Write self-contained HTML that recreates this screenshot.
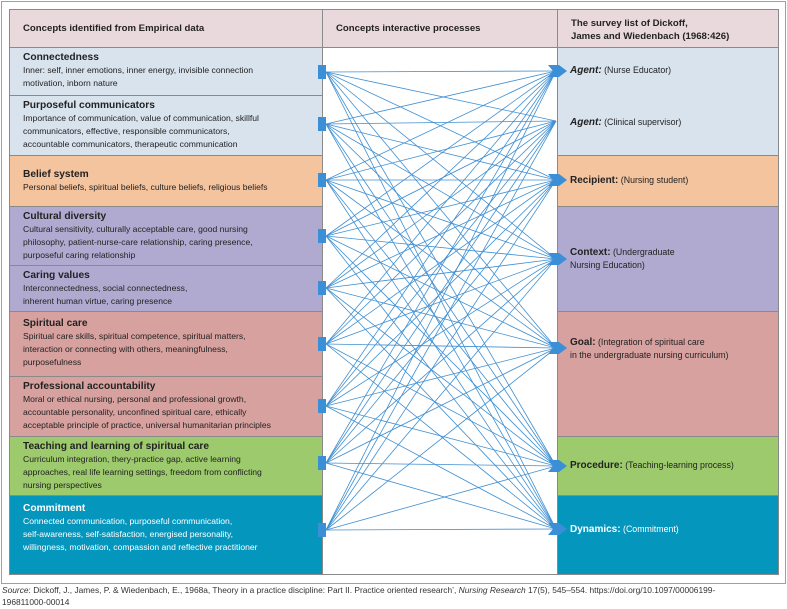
<!DOCTYPE html>
<html><head><meta charset="utf-8"><style>
body{margin:0;width:787px;height:609px;background:#fff;font-family:"Liberation Sans",sans-serif;color:#222;position:relative;overflow:hidden}
.frame{position:absolute;left:1px;top:1px;width:783px;height:581px;border:1px solid #a0a0a0}
.c{position:absolute;box-sizing:border-box;border:1px solid #8a8a8a;padding:3px 0 0 13px;font-size:8.6px;line-height:12.8px}
.c b{font-size:10.2px;display:block;line-height:13px}
.h{background:#ead9dc;font-weight:bold;font-size:9.6px;line-height:13px}
.bl{background:#d9e3ee}.or{background:#f4c49f}.pu{background:#b0aad0}.re{background:#d7a19f}.gr{background:#9cca6c}.te{background:#0596bd;color:#fff}
.r{position:absolute;left:570px;font-size:8.8px;line-height:13px}
.r b{font-size:10px}
.src{position:absolute;left:2px;top:584px;font-size:8.4px;line-height:12px;color:#333}
</style></head><body>
<div class="frame"></div>
<div class="c h" style="left:9px;top:9px;width:314px;height:39px;padding-top:12px">Concepts identified from Empirical data</div>
<div class="c h" style="left:322px;top:9px;width:236px;height:39px;padding-top:12px">Concepts interactive processes</div>
<div class="c h" style="left:557px;top:9px;width:222px;height:39px;padding-top:7px">The survey list of Dickoff,<br>James and Wiedenbach (1968:426)</div>
<div class="c" style="left:322px;top:47px;width:236px;height:528px;background:#fff"></div>

<div class="c bl" style="left:9px;top:47px;width:314px;height:49px"><b>Connectedness</b>Inner: self, inner emotions, inner energy, invisible connection<br>motivation, inborn nature</div>
<div class="c bl" style="left:9px;top:95px;width:314px;height:61px"><b>Purposeful communicators</b>Importance of communication, value of communication, skillful<br>communicators, effective, responsible communicators,<br>accountable communicators, therapeutic communication</div>
<div class="c or" style="left:9px;top:155px;width:314px;height:52px;padding-top:12px"><b>Belief system</b>Personal beliefs, spiritual beliefs, culture beliefs, religious beliefs</div>
<div class="c pu" style="left:9px;top:206px;width:314px;height:60px"><b>Cultural diversity</b>Cultural sensitivity, culturally acceptable care, good nursing<br>philosophy, patient-nurse-care relationship, caring presence,<br>purposeful caring relationship</div>
<div class="c pu" style="left:9px;top:265px;width:314px;height:47px"><b>Caring values</b>Interconnectedness, social connectedness,<br>inherent human virtue, caring presence</div>
<div class="c re" style="left:9px;top:311px;width:314px;height:66px;padding-top:5px"><b>Spiritual care</b>Spiritual care skills, spiritual competence, spiritual matters,<br>interaction or connecting with others, meaningfulness,<br>purposefulness</div>
<div class="c re" style="left:9px;top:376px;width:314px;height:61px"><b>Professional accountability</b>Moral or ethical nursing, personal and professional growth,<br>accountable personality, unconfined spiritual care, ethically<br>acceptable principle of practice, universal humanitarian principles</div>
<div class="c gr" style="left:9px;top:436px;width:314px;height:60px"><b>Teaching and learning of spiritual care</b>Curriculum integration, thery-practice gap, active learning<br>approaches, real life learning settings, freedom from conflicting<br>nursing perspectives</div>
<div class="c te" style="left:9px;top:495px;width:314px;height:80px;padding-top:6px"><b>Commitment</b>Connected communication, purposeful communication,<br>self-awareness, self-satisfaction, energised personality,<br>willingness, motivation, compassion and reflective practitioner</div>

<div class="c bl" style="left:557px;top:47px;width:222px;height:109px"></div>
<div class="c or" style="left:557px;top:155px;width:222px;height:52px"></div>
<div class="c pu" style="left:557px;top:206px;width:222px;height:106px"></div>
<div class="c re" style="left:557px;top:311px;width:222px;height:126px"></div>
<div class="c gr" style="left:557px;top:436px;width:222px;height:60px"></div>
<div class="c te" style="left:557px;top:495px;width:222px;height:80px"></div>

<div class="r" style="top:64px"><b><i>Agent:</i></b> (Nurse Educator)</div>
<div class="r" style="top:116px"><b><i>Agent:</i></b> (Clinical supervisor)</div>
<div class="r" style="top:174px"><b>Recipient:</b> (Nursing student)</div>
<div class="r" style="top:246px"><b>Context:</b> (Undergraduate<br>Nursing Education)</div>
<div class="r" style="top:360px;left:570px;top:360px"></div>
<div class="r" style="top:360px"></div>
<div class="r" style="left:571px;top:360px;display:none"></div>
<div class="r" style="top:360px"></div>
<div class="r" style="top:360px"></div>
<div class="r" style="top:361px;display:none"></div>
<div class="r" style="top:360px"></div>
<div class="r" style="top:360px"></div>
<div class="r" style="top:360px"></div>
<div class="r" style="top:360px"></div>
<div class="r" style="top:360px"></div>
<div class="r" style="top:336px"><b>Goal:</b> (Integration of spiritual care<br>in the undergraduate nursing curriculum)</div>
<div class="r" style="top:459px"><b>Procedure:</b> (Teaching-learning process)</div>
<div class="r" style="top:523px;color:#fff"><b>Dynamics:</b> (Commitment)</div>

<svg style="position:absolute;left:0;top:0" width="787" height="609" id="s"></svg>
<script>
var s=document.getElementById('s'),ns='http://www.w3.org/2000/svg';
var L=[72,124,180,236,288,344,406,463,530],R=[71,121,180,259,348,466,529];
var h='';
L.forEach(function(a){R.forEach(function(b){h+='<line x1="326" y1="'+a+'" x2="556" y2="'+b+'" stroke="#3f8fd2" stroke-width="0.8"/>';});});
L.forEach(function(a){h+='<rect x="318" y="'+(a-7)+'" width="8" height="14" fill="#3a8fd6"/>';});
R.forEach(function(b,i){if(i==1)return;h+='<polygon points="548,'+(b-6)+' 559,'+(b-6)+' 567,'+b+' 559,'+(b+6)+' 548,'+(b+6)+' 553,'+b+'" fill="#3a8fd6"/>';});
s.innerHTML=h;
</script>
<div class="src"><i>Source</i>: Dickoff, J., James, P. &amp; Wiedenbach, E., 1968a, Theory in a practice discipline: Part II. Practice oriented research’, <i>Nursing Research</i> 17(5), 545–554. https://doi.org/10.1097/00006199-<br>196811000-00014</div>
</body></html>
